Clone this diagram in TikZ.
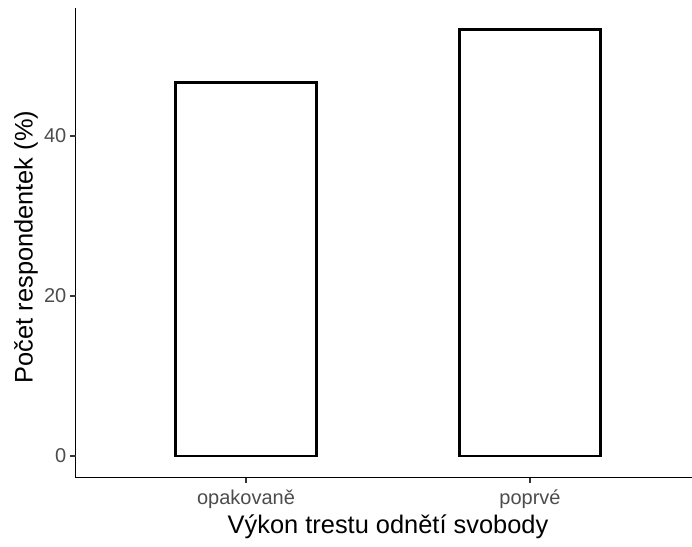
\documentclass[tikz,border=0pt]{standalone}
\usepackage{fontspec}
\setmainfont{Liberation Sans}
\begin{document}
\begin{tikzpicture}[x=1pt,y=-1pt,
  bar/.style={draw=black,line width=2.6pt,fill=white},
  axisline/.style={draw=black,line width=1.5pt},
  tickmark/.style={draw=black!80,line width=1.4pt},
  ticklabel/.style={text=black!70,inner sep=0pt,font=\fontsize{20}{22}\selectfont},
  axistitle/.style={text=black,inner sep=0pt,font=\fontsize{25.4}{28}\selectfont}]
\useasboundingbox (0,0) rectangle (692,546);
% bars
\draw[bar] (175.5,456) rectangle (316.5,82.6);
\draw[bar] (459.5,456) rectangle (600.5,29.4);
% axes
\draw[axisline] (75.5,8) -- (75.5,477.5) -- (692,477.5);
% y ticks
\foreach \v/\y in {0/456,20/296,40/136}{
  \coordinate (yt\v) at (75.5,\y);
  \draw[tickmark] (70,\y) -- (yt\v);
  \node[ticklabel,anchor=east] (yl\v) at (66.5,\y) {\v};
}
% x ticks
\coordinate (xt1) at (246,477.5);
\coordinate (xt2) at (530,477.5);
\draw[tickmark] (xt1) -- (246,483);
\draw[tickmark] (xt2) -- (530,483);
\node[ticklabel,anchor=base] (xl1) at (246,504) {opakovaně};
\node[ticklabel,anchor=base] (xl2) at (530,504) {poprvé};
% titles
\node[axistitle,anchor=base] (xtitle) at (388,533) {Výkon trestu odnětí svobody};
\node[axistitle,anchor=base,rotate=90] (ytitle) at (32.5,247) {Počet respondentek (\%)};
\end{tikzpicture}
\end{document}
